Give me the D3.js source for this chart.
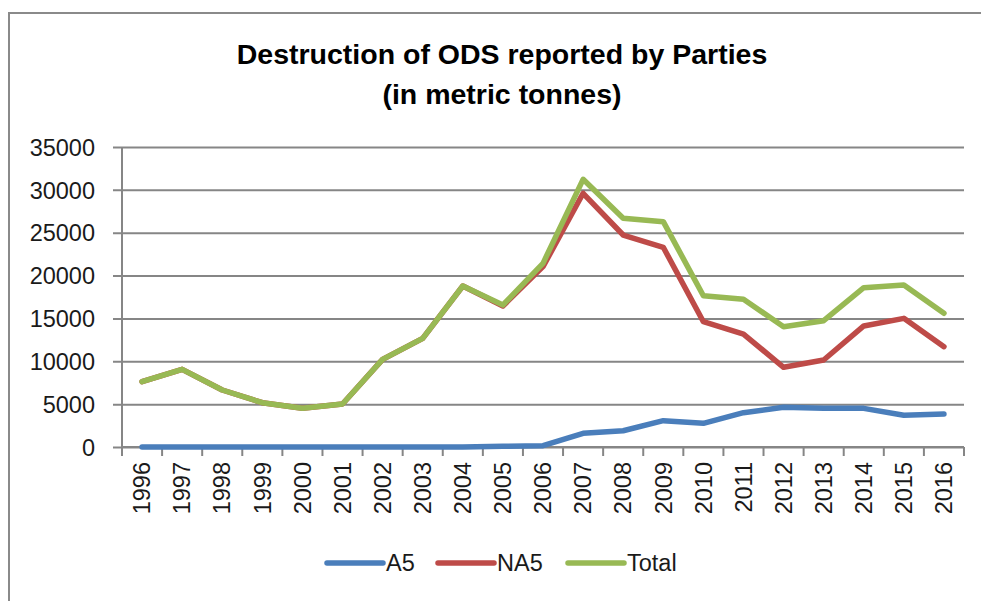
<!DOCTYPE html>
<html>
<head>
<meta charset="utf-8">
<script src="https://cdn.jsdelivr.net/npm/d3@7"></script>
<style>
  body { margin: 0; background: #fff; }
  svg text { font-family: "Liberation Sans", Arial, sans-serif; fill: #000; }
</style>
</head>
<body>
<svg id="chart" width="981" height="601"></svg>
<script>
// Data (metric tonnes)
var years = ["1996", "1997", "1998", "1999", "2000", "2001", "2002", "2003", "2004", "2005", "2006",
             "2007", "2008", "2009", "2010", "2011", "2012", "2013", "2014", "2015", "2016"];
var a5 = [0, 0, 0, 0, 0, 0, 0, 0, 0, 80, 150,
          1600, 1900, 3070, 2760, 4000, 4630, 4510, 4510, 3700, 3850];
var na5 = [7620, 9060, 6650, 5170, 4510, 5020, 10230, 12680, 18780, 16450, 21040,
           29600, 24730, 23300, 14620, 13180, 9300, 10150, 14120, 15010, 11700];
var total = [7620, 9060, 6650, 5170, 4510, 5020, 10230, 12680, 18780, 16570, 21430,
             31230, 26680, 26290, 17650, 17230, 14040, 14740, 18590, 18900, 15600];
var yTicks = [0, 5000, 10000, 15000, 20000, 25000, 30000, 35000];
var seriesNames = ["A5", "NA5", "Total"];
var seriesColors = ["#4a7ebb", "#be4b48", "#98b954"];

let svg = d3.select("#chart");

// Outer chart border (right and bottom edges fall outside the picture)
svg.append("rect")
  .attr("x", 9).attr("y", 13)
  .attr("width", 1000).attr("height", 620)
  .attr("fill", "none")
  .attr("stroke", "#8a8a8a")
  .attr("stroke-width", 2);

let margin = { top: 147, left: 122, right: 17, bottom: 154 };
let plotWidth = 981 - margin.left - margin.right;
let plotHeight = 601 - margin.top - margin.bottom;

let xScale = d3.scaleBand()
  .domain(years)
  .range([0, plotWidth]);

let yScale = d3.scaleLinear()
  .domain([0, 35000])
  .range([plotHeight, 0]);

let plot = svg.append("g")
  .attr("transform", "translate(" + margin.left + "," + margin.top + ")");

// Gridlines + y ticks
let yAxis = d3.axisLeft(yScale)
  .tickValues(yTicks)
  .tickSize(-plotWidth)
  .tickPadding(0)
  .tickFormat(d3.format("d"));

let yGroup = plot.append("g").call(yAxis);
yGroup.select(".domain").remove();
yGroup.selectAll(".tick line")
  .attr("x1", -9)
  .attr("stroke", "#868686")
  .attr("stroke-width", 2);
yGroup.selectAll(".tick text")
  .attr("x", -27)
  .attr("dy", "0.35em")
  .style("font-size", "23.5px")
  .style("fill", "#1a1a1a");

// Y axis line
plot.append("line")
  .attr("x1", 0).attr("x2", 0)
  .attr("y1", 0).attr("y2", plotHeight + 9)
  .attr("stroke", "#868686")
  .attr("stroke-width", 2);

// X axis: ticks at band boundaries
let bounds = years.map((d) => xScale(d)).concat([plotWidth]);
plot.append("g").selectAll("line")
  .data(bounds)
  .join("line")
  .attr("x1", (d) => d).attr("x2", (d) => d)
  .attr("y1", plotHeight).attr("y2", plotHeight + 9)
  .attr("stroke", "#868686")
  .attr("stroke-width", 2);

plot.append("line")
  .attr("x1", 0).attr("x2", plotWidth)
  .attr("y1", plotHeight).attr("y2", plotHeight)
  .attr("stroke", "#868686")
  .attr("stroke-width", 2);

// X labels, rotated
plot.append("g").selectAll("text")
  .data(years)
  .join("text")
  .text((d) => d)
  .attr("transform", (d) => "translate(" + (xScale(d) + xScale.bandwidth() / 2) + "," + (plotHeight + 15) + ") rotate(-90)")
  .attr("text-anchor", "end")
  .attr("dy", "0.35em")
  .style("font-size", "23.5px")
  .style("fill", "#1a1a1a");

// Lines
let lineFunction = d3.line()
  .x((d, i) => xScale(years[i]) + xScale.bandwidth() / 2)
  .y((d) => yScale(d));

[a5, na5, total].forEach((values, i) => {
  plot.append("path")
    .attr("d", lineFunction(values))
    .attr("fill", "none")
    .attr("stroke", seriesColors[i])
    .attr("stroke-width", 5.5)
    .attr("stroke-linejoin", "round")
    .attr("stroke-linecap", "round");
});

// Title
svg.append("text")
  .text("Destruction of ODS reported by Parties")
  .attr("x", 502).attr("y", 64)
  .attr("text-anchor", "middle")
  .style("font-size", "28.5px")
  .style("font-weight", "bold");

svg.append("text")
  .text("(in metric tonnes)")
  .attr("x", 502).attr("y", 104)
  .attr("text-anchor", "middle")
  .style("font-size", "28.5px")
  .style("font-weight", "bold");

// Legend
let legendX = [327, 438, 568];
let legend = svg.append("g").selectAll("g")
  .data(seriesNames)
  .join("g")
  .attr("transform", (d, i) => "translate(" + legendX[i] + ",563)");

legend.append("line")
  .attr("x1", 0).attr("x2", 56)
  .attr("stroke", (d, i) => seriesColors[i])
  .attr("stroke-width", 5.5)
  .attr("stroke-linecap", "round");

legend.append("text")
  .text((d) => d)
  .attr("x", 59)
  .attr("dy", "0.35em")
  .style("font-size", "23.5px")
  .style("fill", "#1a1a1a");
</script>
</body>
</html>
